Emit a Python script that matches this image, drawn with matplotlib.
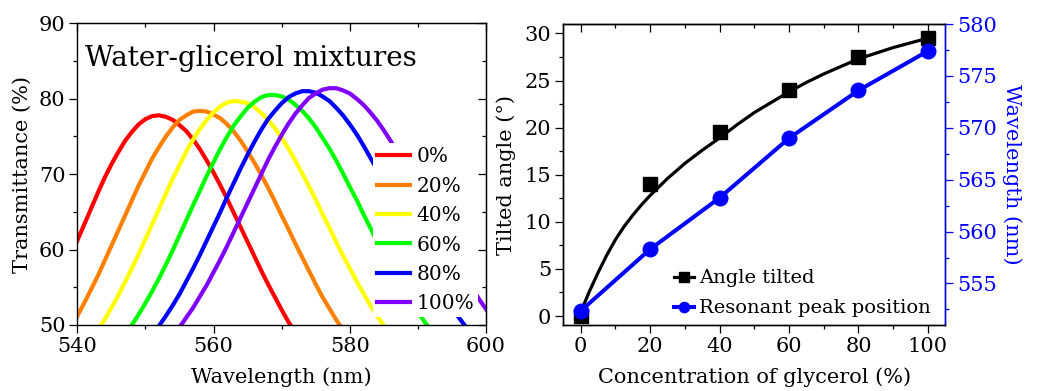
#!/usr/bin/env python3

import matplotlib.pyplot as plt
from matplotlib.ticker import MultipleLocator

plt.rcParams['font.family'] = ['DejaVu Serif']

# left panel: transmittance spectra, 1 nm steps
wl_0 = list(range(536, 575))
T_0 = [53.1, 55.0, 57.0, 59.1, 61.2, 63.3, 65.4, 67.5, 69.5, 71.3,
       72.9, 74.4, 75.6, 76.6, 77.3, 77.7, 77.8, 77.6, 77.2, 76.5,
       75.7, 74.6, 73.3, 71.8, 70.2, 68.5, 66.7, 64.8, 62.9, 61.0,
       59.1, 57.2, 55.4, 53.7, 52.0, 50.4, 49.0, 47.6, 46.4]
wl_20 = list(range(536, 583))
T_20 = [45.7, 46.9, 48.2, 49.6, 51.2, 52.9, 54.7, 56.5, 58.5, 60.5,
        62.5, 64.5, 66.5, 68.5, 70.3, 72.1, 73.6, 75.0, 76.2, 77.2,
        77.8, 78.3, 78.4, 78.3, 77.9, 77.4, 76.6, 75.6, 74.4, 73.0,
        71.5, 69.9, 68.2, 66.4, 64.5, 62.7, 60.8, 59.0, 57.2, 55.4,
        53.7, 52.2, 50.7, 49.3, 48.0, 46.8, 45.7]
wl_40 = list(range(540, 589))
T_40 = [45.8, 46.9, 48.0, 49.3, 50.7, 52.3, 53.9, 55.7, 57.5, 59.4,
        61.4, 63.4, 65.4, 67.4, 69.4, 71.2, 73.0, 74.6, 76.0, 77.2,
        78.2, 79.0, 79.5, 79.7, 79.6, 79.4, 78.9, 78.1, 77.2, 76.1,
        74.8, 73.4, 71.8, 70.1, 68.4, 66.6, 64.7, 62.9, 61.0, 59.2,
        57.5, 55.8, 54.2, 52.6, 51.2, 49.9, 48.6, 47.5, 46.5]
wl_60 = list(range(544, 595))
T_60 = [45.6, 46.6, 47.6, 48.7, 50.0, 51.4, 52.9, 54.5, 56.2, 58.0,
        59.9, 61.9, 63.9, 65.9, 67.8, 69.8, 71.6, 73.4, 75.0, 76.5,
        77.7, 78.8, 79.6, 80.2, 80.5, 80.5, 80.3, 79.9, 79.2, 78.4,
        77.4, 76.2, 74.8, 73.4, 71.8, 70.1, 68.3, 66.6, 64.7, 62.9,
        61.1, 59.4, 57.7, 56.1, 54.5, 53.0, 51.7, 50.4, 49.2, 48.1, 47.1]
wl_80 = list(range(548, 601))
T_80 = [45.8, 46.7, 47.6, 48.7, 49.9, 51.2, 52.6, 54.1, 55.8, 57.5,
        59.3, 61.2, 63.1, 65.0, 67.0, 68.9, 70.8, 72.6, 74.3, 75.9,
        77.3, 78.4, 79.4, 80.2, 80.7, 81.0, 81.0, 80.8, 80.3, 79.7,
        78.8, 77.8, 76.6, 75.3, 73.8, 72.2, 70.6, 68.8, 67.0, 65.2,
        63.5, 61.7, 59.9, 58.2, 56.6, 55.1, 53.6, 52.2, 51.0, 49.8,
        48.7, 47.7, 46.8]
wl_100 = list(range(552, 603))
T_100 = [46.7, 47.6, 48.6, 49.7, 51.0, 52.3, 53.8, 55.3, 57.0, 58.7,
         60.5, 62.4, 64.3, 66.2, 68.1, 70.0, 71.9, 73.6, 75.2, 76.7,
         78.0, 79.1, 80.1, 80.7, 81.2, 81.4, 81.4, 81.1, 80.7, 80.0,
         79.2, 78.2, 77.1, 75.8, 74.4, 72.8, 71.2, 69.6, 67.9, 66.2,
         64.4, 62.7, 61.0, 59.4, 57.8, 56.2, 54.8, 53.4, 52.1, 50.9, 49.8]

spectra = [(wl_0, T_0, '0%', '#ff0000'),
           (wl_20, T_20, '20%', '#ff8000'),
           (wl_40, T_40, '40%', '#ffff00'),
           (wl_60, T_60, '60%', '#00ff00'),
           (wl_80, T_80, '80%', '#0000ff'),
           (wl_100, T_100, '100%', '#8000ff')]

# right panel
conc = [0, 20, 40, 60, 80, 100]
angle = [0.0, 14.0, 19.5, 24.0, 27.45, 29.5]
peak = [552.35, 558.3, 563.25, 569.0, 573.6, 577.4]
fit_c = [0, 2.5, 5, 7.5, 10, 12.5, 15, 17.5, 20, 25, 30, 35, 40, 45, 50,
         55, 60, 65, 70, 75, 80, 85, 90, 95, 100]
fit_angle = [0.4, 2.6, 4.6, 6.45, 8.1, 9.5, 10.7, 11.8, 12.8, 14.6, 16.2, 17.6,
             18.9, 20.3, 21.6, 22.7, 23.8, 24.8, 25.7, 26.5, 27.3, 27.9,
             28.5, 29.0, 29.5]

fig = plt.figure(figsize=(10.58, 3.91), dpi=100)

def style_ticks(ax):
    ax.tick_params(which='both', direction='out', width=0.9, labelsize=15, pad=3)
    ax.tick_params(which='major', length=5.5)
    ax.tick_params(which='minor', length=3)
    for s in ax.spines.values():
        s.set_linewidth(1.0)

def inner_mirror(ax, yaxis=True):
    top = ax.secondary_xaxis('top')
    top.xaxis.set_major_locator(ax.xaxis.get_major_locator())
    top.xaxis.set_minor_locator(ax.xaxis.get_minor_locator())
    top.tick_params(which='both', direction='in', labeltop=False, width=0.9)
    top.tick_params(which='major', length=5.5)
    top.tick_params(which='minor', length=3)
    if yaxis:
        right = ax.secondary_yaxis('right')
        right.yaxis.set_major_locator(ax.yaxis.get_major_locator())
        right.yaxis.set_minor_locator(ax.yaxis.get_minor_locator())
        right.tick_params(which='both', direction='in', labelright=False, width=0.9)
        right.tick_params(which='major', length=5.5)
        right.tick_params(which='minor', length=3)

# ---- left panel
ax1 = fig.add_axes([0.0731, 0.1688, 0.3863, 0.7716])
for wl, T, lab, col in spectra:
    ax1.plot(wl, T, color=col, lw=3.0, label=lab, solid_joinstyle='round')
ax1.set_xlim(540, 600)
ax1.set_ylim(50, 90)
ax1.xaxis.set_major_locator(MultipleLocator(20))
ax1.xaxis.set_minor_locator(MultipleLocator(10))
ax1.yaxis.set_major_locator(MultipleLocator(10))
ax1.yaxis.set_minor_locator(MultipleLocator(5))
style_ticks(ax1)
inner_mirror(ax1)
ax1.set_xlabel('Wavelength (nm)', fontsize=15, labelpad=8)
ax1.set_ylabel('Transmittance (%)', fontsize=15, labelpad=5)
ax1.text(0.019, 0.858, 'Water-glicerol mixtures', transform=ax1.transAxes,
         fontsize=20, va='baseline', ha='left')
ax1.legend(loc='upper left', bbox_to_anchor=(0.7235, 0.603), borderaxespad=0,
           fontsize=14.5, frameon=True, fancybox=False, framealpha=1,
           facecolor='white', edgecolor='none', borderpad=0.2,
           handlelength=1.65, handletextpad=0.3, labelspacing=0.52)

# ---- right panel
ax2 = fig.add_axes([0.5324, 0.1688, 0.3611, 0.7698])
ax2.plot(fit_c, fit_angle, color='black', lw=2.3, zorder=2, solid_joinstyle='round')
ax2.plot(conc, angle, 's', color='black', ms=9.5, zorder=3)
ax2.set_xlim(-5, 105)
ax2.set_ylim(-0.95, 31)
ax2.xaxis.set_major_locator(MultipleLocator(20))
ax2.xaxis.set_minor_locator(MultipleLocator(10))
ax2.yaxis.set_major_locator(MultipleLocator(5))
ax2.yaxis.set_minor_locator(MultipleLocator(2.5))
style_ticks(ax2)
inner_mirror(ax2, yaxis=False)
ax2.set_xlabel('Concentration of glycerol (%)', fontsize=15, labelpad=8)
ax2.set_ylabel('Tilted angle (°)', fontsize=15, labelpad=6)

ax3 = ax2.twinx()
ax3.plot(conc, peak, '-o', color='blue', lw=2.9, ms=10.5)
ax3.set_ylim(551.0, 580)
ax3.yaxis.set_major_locator(MultipleLocator(5))
ax3.yaxis.set_minor_locator(MultipleLocator(2.5))
style_ticks(ax3)
ax3.tick_params(axis='y', which='both', colors='blue')
ax3.spines['right'].set_color('blue')
ax3.set_ylabel('Wavelength (nm)', fontsize=15, color='blue', rotation=270, labelpad=18)

h_angle, = ax2.plot([], [], '-s', color='black', lw=2.3, ms=9.5, label='Angle tilted')
h_peak, = ax3.plot([], [], '-o', color='blue', lw=2.9, ms=10.5, label='Resonant peak position')
ax3.legend(handles=[h_angle, h_peak], loc='lower left', bbox_to_anchor=(0.29, 0.025),
           borderaxespad=0, borderpad=0, frameon=False, fontsize=14,
           handlelength=1.0, handletextpad=0.3, labelspacing=0.62, markerscale=0.7)

fig.savefig('out.png', dpi=100)
